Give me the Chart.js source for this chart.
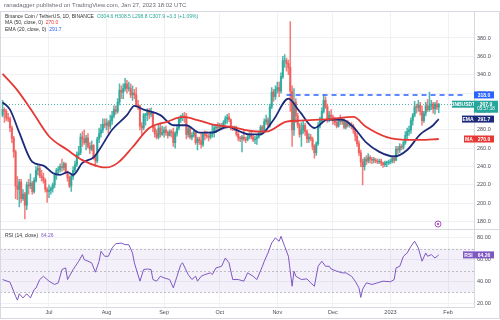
<!DOCTYPE html>
<html>
<head>
<meta charset="utf-8">
<script src="https://cdn.jsdelivr.net/npm/chart.js@4.4.0/dist/chart.umd.min.js"></script>
<style>
  html, body { margin: 0; padding: 0; background: #fff; }
  #chart { display: block; }
</style>
</head>
<body>
<canvas id="chart" width="500" height="320"></canvas>
<script>
// ===================== DATA (BNB/USDT daily, first candle 2022-06-06) =====================
const startDate = "2022-06-06";

const opens = [
    296,302,300,293,292,282,271,256,219,215,223,205,210,198,220,219,222,213,225,236,238,230,228,225,215,
    213,214,216,220,231,236,237,240,239,243,234,228,219,229,236,242,253,255,272,270,266,271,262,259,263,250,246,270,276,280,286,
    285,288,284,290,295,302,300,310,323,321,325,330,325,325,318,320,318,307,306,284,282,296,296,300,297,298,282,276,272,282,275,
    277,280,277,274,278,277,266,276,282,292,293,295,294,275,281,272,274,278,266,270,268,264,275,274,273,272,276,278,282,283,
    282,285,284,288,292,294,291,282,281,282,275,271,270,272,270,269,272,275,272,269,270,272,276,283,279,289,291,285,305,321,316,
    324,326,322,338,355,355,352,348,322,280,310,295,285,275,280,285,278,270,272,270,262,255,265,285,290,300,312,305,292,296,
    294,290,288,284,291,289,291,283,288,285,285,284,280,273,265,255,245,240,248,246,250,248,247,247,246,245,246,244,242,244,244,
    245,246,249,247,259,258,262,261,266,274,278,280,290,296,305,304,307,300,290,298,306,302,306,308,303,308,304.6
];
const highs = [
    312,304,302,298,294,284,273,258,229,226,226,215,212,223,226,232,224,228,240,242,241,236,233,227,217,
    220,218,222,232,238,240,243,248,245,244,235,230,232,240,246,256,262,276,278,280,274,276,266,268,264,252,272,282,286,292,292,
    292,290,296,300,306,306,314,330,328,330,336,334,332,330,328,324,326,312,307,288,298,298,303,303,304,300,284,280,285,288,284,
    283,284,279,280,280,282,278,284,294,296,298,299,298,284,283,277,280,279,272,272,276,277,279,278,275,278,285,285,286,288,
    287,287,290,295,297,298,292,284,284,284,277,273,274,280,272,274,277,278,274,273,274,278,285,285,292,296,293,308,326,324,328,
    332,332,342,360,362,358,356,398,328,325,314,298,287,288,290,287,280,276,275,272,264,267,288,294,304,318,316,308,300,302,
    296,294,290,293,296,293,292,290,290,288,288,286,282,276,268,258,248,250,252,254,252,250,250,249,248,248,248,245,246,246,247,
    248,251,252,262,262,265,264,268,278,282,284,293,298,311,308,312,310,306,300,310,313,321,312,310,310,312,308.5
];
const lows = [
    294,288,290,289,278,266,250,205,204,196,201,203,183,193,210,216,210,211,223,231,228,224,222,212,201,
    206,210,212,217,226,231,234,235,236,232,224,217,213,226,234,240,251,253,262,264,258,260,254,257,248,240,244,266,272,277,282,
    280,276,281,286,293,297,298,307,314,314,322,320,322,315,312,314,305,302,280,275,280,285,290,292,294,278,272,270,270,272,274,
    272,274,271,273,272,262,260,273,280,288,290,288,270,272,270,269,272,264,258,264,260,262,269,271,268,270,272,272,277,279,
    280,280,281,286,287,289,280,279,279,273,268,267,256,268,266,268,270,270,267,265,264,271,274,276,277,286,283,283,303,311,313,
    320,316,320,336,348,344,340,300,262,274,288,282,272,262,276,274,266,266,268,258,249,252,263,282,288,298,303,288,289,290,
    286,285,282,283,286,286,281,281,283,283,281,276,268,262,252,240,220,236,242,244,244,243,244,244,243,243,241,239,240,240,242,
    243,244,244,246,254,255,258,259,264,270,274,276,285,294,298,300,296,285,288,295,300,300,302,298,297,302,298.8
];
const closes = [
    302,300,293,292,282,271,256,219,215,223,205,210,198,220,219,222,213,225,236,238,230,228,225,215,213,
    214,216,220,231,236,237,240,239,243,234,228,219,229,236,242,253,255,272,270,266,271,262,259,263,250,246,270,276,280,286,285,
    288,284,290,295,302,300,310,323,321,325,330,325,325,318,320,318,307,306,284,282,296,296,300,297,298,282,276,272,282,275,277,
    280,277,274,278,277,266,276,282,292,293,295,294,275,281,272,274,278,266,270,268,264,275,274,273,272,276,278,282,283,282,
    285,284,288,292,294,291,282,281,282,275,271,270,272,270,269,272,275,272,269,270,272,276,283,279,289,291,285,305,321,316,324,
    326,322,338,355,355,352,348,322,280,310,295,285,275,280,285,278,270,272,270,262,255,265,285,290,300,312,305,292,296,294,
    290,288,284,291,289,291,283,288,285,285,284,280,273,265,255,245,240,248,246,250,248,247,247,246,245,246,244,242,244,244,245,
    246,249,247,259,258,262,261,266,274,278,280,290,296,305,304,307,300,290,298,306,302,306,308,303,308,304.6,307.9
];

// moving averages (x = days since startDate)
const ma50Days = [0, 8, 16, 25, 35, 43, 52, 56, 62, 70, 79, 89, 97, 106, 115, 124, 133, 142, 153, 160, 178, 189, 196, 207, 218, 225, 235];
const ma50 = [341, 323, 300, 273, 258, 247, 240, 239, 244, 261, 282, 289, 294, 290, 285, 283, 279, 278, 289, 290, 292, 294, 283, 272, 269, 269, 270];
const ema20Days = [0, 4, 9, 16, 22, 27, 31, 35, 38, 43, 49, 52, 59, 67, 71, 76, 85, 92, 99, 106, 113, 119, 122, 128, 133, 139, 146, 154, 160, 168, 175, 183, 189, 196, 203, 211, 218, 225, 232, 235];
const ema20 = [310, 302, 277, 245, 241, 233, 231, 234, 231, 244, 250, 258, 280, 296, 306, 302, 296, 285, 285, 277, 277, 282, 283, 278, 275, 275, 291, 314, 300, 282, 291, 291, 283, 266, 256, 251, 258, 275, 285, 291.7];

// RSI(14)
const rsiDays = [0,4,7,8,9,11,13,15,17,18,20,22,25,28,30,32,34,35,38,41,43,44,46,48,50,52,53,55,57,59,61,64,66,68,70,71,74,76,78,80,81,83,85,87,90,92,94,96,97,100,102,104,105,107,109,112,113,115,118,120,122,124,127,130,132,135,137,140,141,143,145,147,149,150,152,154,156,157,158,161,164,166,168,170,172,174,176,177,180,183,185,188,190,192,193,194,196,199,202,205,209,211,212,214,216,218,220,222,224,226,228,229,231,233,235];
const rsi = [41.8,39.4,26.6,23,28.8,25,28.8,25,32.7,34,41.8,44.8,40.3,37.3,38.8,50.9,52.4,41.8,50.9,58.5,64.5,59.9,58.5,57,48.5,58.5,67.6,63,63,70.6,74.5,75,73.6,73.6,66,57,40.3,50.9,51.4,50.9,41.8,40.3,44.8,43.3,41.8,34.2,44.8,55.4,57,46.3,41.8,44.8,40.3,44.8,46.3,47.9,46.3,52.4,53.9,61.4,57,41.8,41.8,40.3,47.9,44.8,41.8,53.9,58.5,66,75.2,79.7,76.7,81.2,72,63,35.7,49.4,44.8,41.8,42.4,38.8,35.7,53.9,58.5,53.9,53.9,51.4,49.4,47.9,47.9,44.8,40.3,34.2,25.5,33,38.8,37.3,38.8,40.3,39.8,41.8,52.4,53.9,63,66,72,76.7,70.6,58.5,66,63,64.5,61.4,64.26];
const rsiBands = [30, 50, 70];

const resistance = 318.0;
const resistanceFrom = "2022-11-06";
const resistanceTo = "2023-02-11";

const priceTicks = [180, 200, 220, 240, 260, 280, 300, 320, 340, 360, 380];
const rsiTicks = [20, 40, 60, 80];
const monthLabels = ["Jul", "Aug", "Sep", "Oct", "Nov", "Dec", "2023", "Feb"];
const monthStarts = ["2022-07-01", "2022-08-01", "2022-09-01", "2022-10-01", "2022-11-01", "2022-12-01", "2023-01-01", "2023-02-01"];

// ===================== HELPERS =====================
const FONT = '"Liberation Sans", Arial, sans-serif';
const UP = "#26a69a";
const DOWN = "#ef5350";
const UP_FILL = "rgba(38, 166, 154, 0.8)";
const DOWN_FILL = "rgba(239, 83, 80, 0.75)";
const MA_COLOR = "#e53935";
const EMA_COLOR = "#1c2a7a";
const RSI_COLOR = "#7e57c2";
const GRID = "#f0f1f4";
const AXIS = "#d6d9e0";

const dayIdx = d => Math.round((Date.parse(d) - Date.parse(startDate)) / 864e5);
const candleColors = closes.map((c, i) => (c >= opens[i] ? UP_FILL : DOWN_FILL));
const lastClose = closes[closes.length - 1];

Chart.defaults.font.family = FONT;

// ===================== OVERLAY PLUGIN =====================
function tag(ctx, text, x, yc, w, h, bg) {
    ctx.fillStyle = bg;
    ctx.fillRect(x, yc - h / 2, w, h);
    ctx.fillStyle = "#fff";
    ctx.textAlign = "center";
    ctx.textBaseline = "middle";
    ctx.fillText(text, x + w / 2, yc + 0.3);
}

const overlay = {
    id: "overlay",
    beforeDatasetsDraw(chart) {
        const { ctx, chartArea, scales: { y, yRsi } } = chart;
        ctx.save();
        // RSI band
        const bTop = yRsi.getPixelForValue(rsiBands[2]);
        const bBot = yRsi.getPixelForValue(rsiBands[0]);
        ctx.fillStyle = "rgba(126, 87, 194, 0.09)";
        ctx.fillRect(chartArea.left, bTop, chartArea.right - chartArea.left, bBot - bTop);
        ctx.strokeStyle = "rgba(120, 123, 134, 0.55)";
        ctx.lineWidth = 0.8;
        ctx.setLineDash([2, 2]);
        rsiBands.forEach(v => {
            const py = Math.round(yRsi.getPixelForValue(v)) + 0.5;
            ctx.beginPath();
            ctx.moveTo(chartArea.left, py);
            ctx.lineTo(chartArea.right, py);
            ctx.stroke();
        });
        // last price dotted line
        const lp = Math.round(y.getPixelForValue(lastClose)) + 0.5;
        ctx.strokeStyle = UP;
        ctx.setLineDash([1, 2]);
        ctx.beginPath();
        ctx.moveTo(chartArea.left, lp);
        ctx.lineTo(chartArea.right, lp);
        ctx.stroke();
        ctx.restore();
    },
    afterDraw(chart) {
        const { ctx, chartArea, scales: { y, yRsi } } = chart;
        ctx.save();
        // pane separator and frame
        ctx.strokeStyle = AXIS;
        ctx.lineWidth = 1;
        const sep = Math.round(y.bottom) + 0.5;
        ctx.beginPath();
        ctx.moveTo(0, sep);
        ctx.lineTo(500, sep);
        ctx.stroke();
        ctx.strokeRect(0.5, 11.5, 499, 307);

        // header
        ctx.font = "6px " + FONT;
        ctx.fillStyle = "#6a6d78";
        ctx.textAlign = "left";
        ctx.textBaseline = "middle";
        ctx.fillText("ranadagger published on TradingView.com, Jan 27, 2023 18:02 UTC", 4, 5.5);

        // legend
        ctx.font = "5px " + FONT;
        const line = (parts, x, yy) => {
            parts.forEach(([t, c]) => {
                ctx.fillStyle = c;
                ctx.fillText(t, x, yy);
                x += ctx.measureText(t).width + 3;
            });
        };
        line([["Binance Coin / TetherUS, 1D, BINANCE", "#333"], ["O304.6 H308.5 L298.8 C307.9 +3.3 (+1.09%)", UP]], 5, 16.5);
        line([["MA (50, close, 0)", "#333"], ["270.0", MA_COLOR]], 5, 23);
        line([["EMA (20, close, 0)", "#333"], ["291.7", "#2962ff"]], 5, 29.5);
        line([["RSI (14, close)", "#333"], ["64.26", RSI_COLOR]], 5, Math.round(y.bottom) + 7);

        // price tags on the axis
        const ax = chartArea.right;
        ctx.font = "bold 5px " + FONT;
        tag(ctx, resistance.toFixed(1), ax, y.getPixelForValue(resistance), 20, 7, "#2962ff");
        const lpY = y.getPixelForValue(lastClose);
        tag(ctx, "BNBUSDT", ax - 22, lpY, 22, 7, UP);
        ctx.fillStyle = UP;
        ctx.fillRect(ax, lpY - 3.5, 24, 12);
        ctx.fillStyle = "#fff";
        ctx.textAlign = "center";
        ctx.fillText(lastClose.toFixed(1), ax + 12, lpY);
        ctx.font = "4.5px " + FONT;
        ctx.fillText("05:57:18", ax + 12, lpY + 5);
        ctx.font = "bold 5px " + FONT;
        const emaY = y.getPixelForValue(ema20[ema20.length - 1]);
        tag(ctx, "EMA", ax - 12, emaY, 12, 7, EMA_COLOR);
        tag(ctx, ema20[ema20.length - 1].toFixed(1), ax, emaY, 20, 7, EMA_COLOR);
        const maY = y.getPixelForValue(ma50[ma50.length - 1]);
        tag(ctx, "MA", ax - 10, maY, 10, 7, MA_COLOR);
        tag(ctx, ma50[ma50.length - 1].toFixed(1), ax, maY, 20, 7, MA_COLOR);
        const rY = yRsi.getPixelForValue(rsi[rsi.length - 1]);
        tag(ctx, "RSI", ax - 11, rY, 11, 7, RSI_COLOR);
        tag(ctx, rsi[rsi.length - 1].toFixed(2), ax, rY, 20, 7, RSI_COLOR);

        // events marker
        ctx.strokeStyle = "#9c27b0";
        ctx.fillStyle = "#9c27b0";
        ctx.lineWidth = 0.8;
        ctx.beginPath();
        ctx.arc(438, 224, 3, 0, Math.PI * 2);
        ctx.stroke();
        ctx.beginPath();
        ctx.arc(438, 224, 1, 0, Math.PI * 2);
        ctx.fill();
        ctx.restore();
    }
};

// ===================== CHART =====================
const tickFont = { size: 5.5, family: FONT };

new Chart(document.getElementById("chart"), {
    type: "bar",
    data: {
        datasets: [
            {
                label: "MA 50",
                type: "line",
                data: ma50Days.map((d, k) => ({ x: d, y: ma50[k] })),
                borderColor: MA_COLOR,
                borderWidth: 1.8,
                pointRadius: 0,
                cubicInterpolationMode: "monotone",
                yAxisID: "y",
                order: 1
            },
            {
                label: "EMA 20",
                type: "line",
                data: ema20Days.map((d, k) => ({ x: d, y: ema20[k] })),
                borderColor: EMA_COLOR,
                borderWidth: 1.8,
                pointRadius: 0,
                cubicInterpolationMode: "monotone",
                yAxisID: "y",
                order: 1
            },
            {
                label: "Resistance",
                type: "line",
                data: [
                    { x: dayIdx(resistanceFrom), y: resistance },
                    { x: dayIdx(resistanceTo), y: resistance }
                ],
                borderColor: "#2962ff",
                borderWidth: 1.5,
                borderDash: [5, 4],
                pointRadius: 0,
                yAxisID: "y",
                order: 1
            },
            {
                label: "Wicks",
                data: closes.map((c, i) => ({ x: i, y: [lows[i], highs[i]] })),
                backgroundColor: candleColors,
                barThickness: 0.9,
                grouped: false,
                yAxisID: "y",
                order: 3
            },
            {
                label: "Bodies",
                data: closes.map((c, i) => ({ x: i, y: [opens[i], c] })),
                backgroundColor: candleColors,
                barThickness: 1.5,
                minBarLength: 0.8,
                grouped: false,
                yAxisID: "y",
                order: 2
            },
            {
                label: "RSI",
                type: "line",
                data: rsiDays.map((d, k) => ({ x: d, y: rsi[k] })),
                borderColor: RSI_COLOR,
                borderWidth: 1,
                pointRadius: 0,
                tension: 0,
                yAxisID: "yRsi",
                order: 1
            }
        ]
    },
    options: {
        responsive: false,
        animation: false,
        layout: { padding: { top: 12, bottom: 2, left: 0, right: 0 } },
        plugins: {
            legend: { display: false },
            tooltip: { enabled: false }
        },
        scales: {
            x: {
                type: "linear",
                offset: false,
                min: -1.4,
                max: 254,
                afterBuildTicks: s => { s.ticks = monthStarts.map(d => ({ value: dayIdx(d) })); },
                ticks: {
                    autoSkip: false,
                    maxRotation: 0,
                    padding: 2,
                    color: "#4a4d57",
                    font: tickFont,
                    callback: (v, i) => monthLabels[i]
                },
                grid: { color: GRID, drawTicks: false, offset: false },
                border: { color: AXIS }
            },
            y: {
                position: "right",
                stack: "panes",
                stackWeight: 2.75,
                min: 172.4,
                max: 408.3,
                afterBuildTicks: s => { s.ticks = priceTicks.map(v => ({ value: v })); },
                afterFit: s => { s.width = 26; },
                ticks: {
                    padding: 3,
                    color: "#4a4d57",
                    font: tickFont,
                    callback: v => Number(v).toFixed(1)
                },
                grid: { color: GRID, drawTicks: false },
                border: { color: AXIS }
            },
            yRsi: {
                position: "right",
                stack: "panes",
                stackWeight: 1,
                min: 16.4,
                max: 88.2,
                afterBuildTicks: s => { s.ticks = rsiTicks.map(v => ({ value: v })); },
                afterFit: s => { s.width = 26; },
                ticks: {
                    padding: 3,
                    color: "#4a4d57",
                    font: tickFont,
                    callback: v => Number(v).toFixed(2)
                },
                grid: { color: GRID, drawTicks: false },
                border: { color: AXIS }
            }
        }
    },
    plugins: [overlay]
});
</script>
</body>
</html>
